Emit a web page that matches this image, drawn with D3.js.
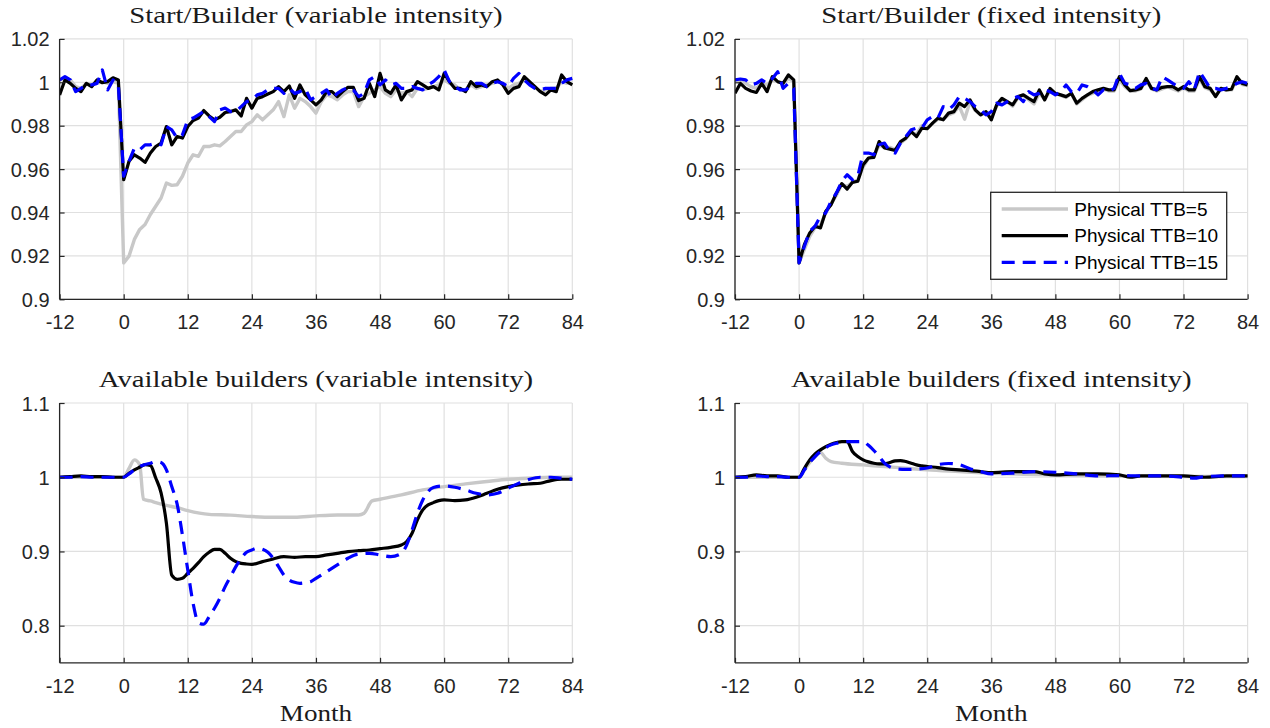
<!DOCTYPE html>
<html><head><meta charset="utf-8">
<script src="https://cdn.jsdelivr.net/npm/d3@7"></script>
<style>body{margin:0;background:#fff} svg{display:block}</style>
</head><body>
<svg id="chart" width="1270" height="728"></svg>
<script>
// ---------- DATA ----------
const months = d3.range(-12, 85);
const xTicks = [-12, 0, 12, 24, 36, 48, 60, 72, 84];
const yTicksTop = [0.9, 0.92, 0.94, 0.96, 0.98, 1, 1.02];
const yTicksBottom = [0.8, 0.9, 1, 1.1];
const seriesNames = ["Physical TTB=5", "Physical TTB=10", "Physical TTB=15"];
const titles = ["Start/Builder (variable intensity)", "Start/Builder (fixed intensity)",
                "Available builders (variable intensity)", "Available builders (fixed intensity)"];
const xLabel = "Month";

// Start/Builder, variable intensity (months -12..84)
const sbVarTTB5 = [1.0011,1.0018,1.0011,0.9980,0.9972,0.9995,0.9988,0.9995,1.0003,0.9995,1.0003,0.9995,
 0.9168,0.9199,0.9276,0.9322,0.9345,0.9391,0.9429,0.9467,0.9536,0.9525,0.9528,0.9567,0.9628,0.9666,0.9659,0.9704,0.9704,0.9712,0.9707,0.9727,0.9750,0.9773,0.9773,0.9804,0.9819,0.9850,0.9827,0.9850,0.9873,0.9911,0.9842,0.9942,0.9881,0.9926,0.9911,0.9888,0.9858,
 0.9911,0.9942,0.9934,0.9919,0.9942,0.9957,0.9957,0.9888,0.9934,0.9949,0.9965,0.9980,0.9949,0.9934,0.9965,0.9949,0.9957,0.9934,0.9972,0.9965,0.9972,0.9980,0.9988,1.0011,0.9995,0.9988,0.9965,0.9965,0.9988,0.9972,0.9980,0.9988,0.9995,1.0003,0.9995,0.9972,0.9988,0.9995,1.0011,0.9995,0.9980,0.9957,0.9965,0.9972,0.9972,1.0003,0.9995,0.9995];
const sbVarTTB10 = [0.9942,1.0011,0.9995,0.9972,0.9957,0.9995,0.9980,1.0011,0.9998,1.0003,1.0021,1.0011,
 0.9551,0.9636,0.9666,0.9651,0.9631,0.9674,0.9704,0.9720,0.9796,0.9712,0.9750,0.9743,0.9796,0.9824,0.9835,0.9870,0.9845,0.9827,0.9839,0.9861,0.9865,0.9873,0.9845,0.9926,0.9881,0.9926,0.9934,0.9946,0.9957,0.9980,0.9957,0.9983,0.9926,0.9988,0.9942,0.9919,0.9896,
 0.9919,0.9957,0.9957,0.9934,0.9957,0.9977,0.9977,0.9916,0.9926,0.9995,0.9934,1.0041,0.9965,0.9949,0.9988,0.9919,0.9957,0.9965,1.0003,0.9988,0.9972,0.9980,0.9965,1.0041,1.0003,0.9972,0.9972,0.9957,1.0003,0.9980,0.9988,0.9980,1.0003,1.0011,0.9988,0.9949,0.9972,0.9980,1.0026,1.0003,0.9980,0.9957,0.9942,0.9965,0.9957,1.0034,1.0003,0.9988];
const sbVarTTB15 = [1.0011,1.0026,1.0011,0.9957,0.9972,0.9988,0.9988,0.9995,1.0057,0.9965,1.0011,0.9988,
 0.9567,0.9636,0.9697,0.9689,0.9712,0.9712,0.9720,0.9712,0.9796,0.9781,0.9743,0.9758,0.9827,0.9835,0.9850,0.9865,0.9842,0.9819,0.9873,0.9881,0.9865,0.9865,0.9888,0.9911,0.9919,0.9942,0.9949,0.9965,0.9972,0.9972,0.9949,0.9972,0.9949,0.9957,0.9972,0.9919,0.9934,
 0.9949,0.9965,0.9926,0.9949,0.9965,0.9977,0.9965,0.9934,0.9949,1.0011,1.0026,0.9988,1.0011,0.9988,0.9995,0.9972,0.9972,0.9980,0.9972,0.9965,0.9988,1.0003,1.0026,1.0057,1.0003,0.9980,0.9965,0.9965,0.9980,0.9995,0.9995,0.9980,0.9995,1.0003,0.9995,0.9980,1.0018,1.0041,1.0011,0.9988,0.9972,0.9965,0.9972,0.9972,0.9972,0.9995,1.0011,1.0018];

// Start/Builder, fixed intensity (months -12..84)
const sbFixTTB5 = [1.0011,1.0003,0.9995,0.9980,0.9972,0.9995,0.9988,1.0011,1.0003,0.9995,1.0018,1.0003,
 0.9168,0.9230,0.9290,0.9330,0.9340,0.9400,0.9440,0.9480,0.9530,0.9520,0.9540,0.9550,0.9610,0.9650,0.9660,0.9710,0.9700,0.9700,0.9690,0.9720,0.9740,0.9770,0.9760,0.9800,0.9790,0.9810,0.9830,0.9830,0.9850,0.9860,0.9890,
 0.9830,0.9910,0.9870,0.9850,0.9860,0.9840,0.9890,0.9920,0.9910,0.9890,0.9930,0.9940,0.9920,0.9900,0.9950,0.9920,0.9960,0.9950,0.9940,0.9930,0.9950,0.9900,0.9920,0.9940,0.9950,0.9960,0.9970,0.9960,0.9960,1.0010,0.9980,0.9960,0.9960,0.9970,1.0010,0.9970,0.9960,0.9970,0.9980,0.9970,0.9960,0.9975,0.9960,0.9960,1.0015,0.9975,0.9965,0.9940,0.9970,0.9965,0.9965,1.0015,0.9990,0.9985];
const sbFixTTB10 = [0.9949,0.9995,0.9972,0.9960,0.9953,0.9995,0.9957,1.0026,1.0003,0.9995,1.0034,1.0011,
 0.9168,0.9253,0.9306,0.9337,0.9329,0.9406,0.9436,0.9490,0.9533,0.9508,0.9539,0.9544,0.9620,0.9651,0.9654,0.9727,0.9697,0.9692,0.9686,0.9727,0.9743,0.9773,0.9750,0.9789,0.9786,0.9812,0.9835,0.9827,0.9858,0.9865,0.9904,
 0.9888,0.9919,0.9873,0.9850,0.9865,0.9827,0.9896,0.9926,0.9911,0.9896,0.9934,0.9942,0.9926,0.9911,0.9965,0.9919,0.9972,0.9949,0.9942,0.9934,0.9949,0.9904,0.9926,0.9942,0.9957,0.9965,0.9972,0.9965,0.9965,1.0026,0.9988,0.9962,0.9965,0.9972,1.0018,0.9972,0.9965,0.9977,0.9980,0.9980,0.9965,0.9980,0.9965,0.9965,1.0026,0.9980,0.9972,0.9934,0.9972,0.9965,0.9968,1.0026,0.9995,0.9988];
const sbFixTTB15 = [1.0011,1.0015,1.0011,0.9988,0.9995,1.0011,0.9995,1.0018,1.0049,0.9972,0.9995,0.9972,
 0.9168,0.9245,0.9314,0.9337,0.9383,0.9398,0.9452,0.9490,0.9544,0.9574,0.9551,0.9567,0.9674,0.9674,0.9666,0.9712,0.9720,0.9681,0.9674,0.9720,0.9750,0.9781,0.9789,0.9789,0.9827,0.9842,0.9835,0.9888,0.9873,0.9896,0.9934,
 0.9926,0.9911,0.9888,0.9873,0.9850,0.9865,0.9904,0.9896,0.9911,0.9926,0.9934,0.9911,0.9957,0.9942,0.9949,0.9965,0.9957,0.9942,0.9957,0.9988,0.9957,0.9949,0.9988,0.9980,0.9965,0.9942,0.9965,0.9957,0.9972,1.0041,0.9995,0.9988,0.9972,0.9988,0.9995,0.9972,0.9965,1.0026,1.0011,0.9995,0.9980,0.9972,1.0003,0.9965,1.0049,1.0011,0.9972,0.9972,0.9965,0.9972,0.9980,0.9995,1.0003,0.9995];

// Available builders, variable intensity
const abVarMonthsTTB5 = [-12,-8,-4,0,1,2,3,3.7,5,6,8,10,12,16,20,24,28,32,36,40,44,45,46.5,48,52,56,60,64,68,72,76,80,84];
const abVarTTB5 = [1,1,1,1,1.012,1.0234,1.0166,0.9703,0.968,0.9658,0.962,0.959,0.955,0.950,0.949,0.947,0.946,0.946,0.948,0.9492,0.9492,0.9515,0.9681,0.9703,0.9762,0.9829,0.9874,0.9910,0.9942,0.9973,0.9987,1.0,1.0];
const abVarMonthsTTB10 = [-12,-10,-8,-6,-4,-2,0,1,2,3,4,5,6,7,8,9,10,11,12,13,14,15,16,17,18,19,20,21,22,23,24,26,28,30,32,34,36,38,40,42,44,46,48,50,52,53,54,55,56,57,58,59,60,62,64,66,68,70,72,74,76,78,80,82,84];
const abVarTTB10 = [1,1.0009,1.0018,1.0009,1.0009,1,1,1.0054,1.0099,1.0135,1.0171,1.0160,0.9990,0.9790,0.9380,0.8680,0.8625,0.8638,0.8706,0.8773,0.8849,0.8930,0.8989,0.9029,0.9029,0.8975,0.8908,0.8863,0.8840,0.8831,0.8827,0.8863,0.8899,0.8930,0.8921,0.8930,0.8930,0.8953,0.8975,0.8998,0.9011,0.9020,0.9038,0.9056,0.9088,0.9133,0.9245,0.9425,0.9560,0.9627,0.9658,0.9685,0.9694,0.9685,0.9694,0.9730,0.9784,0.9838,0.9874,0.9897,0.9910,0.9919,0.9955,0.9973,0.9973];
const abVarMonthsTTB15 = [-12,-10,-8,-6,-4,-2,0,1,2,3,4,5,6,7,8,9,10,11,12,13,14,15,16,17,18,19,20,21,22,23,24,25,26,27,28,29,30,31,32,33,34,35,36,38,40,42,44,46,48,50,52,53,54,55,56,57,58,60,62,64,66,68,70,72,74,76,78,80,82,84];
const abVarTTB15 = [1,1,1.0009,1,1,1,1,1.0045,1.0099,1.0144,1.0171,1.0189,1.0211,1.0198,1.0099,0.9874,0.9640,0.9220,0.8750,0.8300,0.8040,0.8020,0.8121,0.8234,0.8369,0.8526,0.8661,0.8796,0.8908,0.8989,0.9020,0.9043,0.9029,0.8989,0.8908,0.8796,0.8683,0.8616,0.8584,0.8571,0.8580,0.8593,0.8638,0.8728,0.8818,0.8908,0.8966,0.8975,0.8953,0.8930,0.8975,0.9088,0.9290,0.9515,0.9694,0.9807,0.9861,0.9883,0.9865,0.9829,0.9784,0.9762,0.9784,0.9852,0.9919,0.9973,1.0,1.0,0.9987,0.9973];

// Available builders, fixed intensity
const abFixMonthsTTB5 = [-12,-8,-4,0,1,2,3,4,5,6,8,12,16,20,24,30,36,42,48,56,64,72,84];
const abFixTTB5 = [1,1,1,1,1.0099,1.0198,1.0279,1.0333,1.0256,1.0211,1.0189,1.0166,1.0144,1.0121,1.0099,1.0076,1.0054,1.0040,1.0030,1.0020,1.0015,1.0010,1.0010];
const abFixMonthsTTB10 = [-12,-10,-8,-6,-4,-2,0,1,2,3,4,5,6,7,8,9,10,11,12,13,14,15,16,17,18,19,20,21,22,23,24,26,28,30,32,34,36,40,44,46,48,52,56,60,62,64,68,72,76,80,84];
const abFixTTB10 = [1,1.0009,1.0031,1.0018,1.0018,1,1,1.0121,1.0234,1.0315,1.0369,1.0413,1.0445,1.0467,1.0481,1.0481,1.0346,1.0279,1.0234,1.0207,1.0189,1.0180,1.0180,1.0198,1.0220,1.0225,1.0211,1.0189,1.0166,1.0153,1.0144,1.0130,1.0108,1.0099,1.0090,1.0076,1.0063,1.0076,1.0076,1.0045,1.0031,1.0045,1.0045,1.0031,1.0,1.0018,1.0018,1.0018,1.0,1.0018,1.0018];
const abFixMonthsTTB15 = [-12,-10,-8,-6,-4,-2,0,1,2,3,4,5,6,7,8,9,10,11,12,13,14,15,16,17,18,20,22,24,26,28,30,32,34,36,40,44,48,52,56,60,64,68,72,74,76,80,84];
const abFixTTB15 = [1,1,1.0018,1.0009,1.0009,1,1,1.0099,1.0198,1.0279,1.0346,1.0400,1.0436,1.0458,1.0472,1.0481,1.0481,1.0481,1.0481,1.0430,1.0360,1.0280,1.0190,1.0140,1.0115,1.0105,1.0110,1.0125,1.0170,1.0185,1.0170,1.0115,1.0076,1.0045,1.0054,1.0076,1.0067,1.0045,1.0018,1.0022,1.0018,1.0018,1.0,0.9987,1.0009,1.0018,1.0018];

// ---------- STYLE / LAYOUT ----------
const styles = [
  {color: "#c8c8c8", width: 3.4, dash: null},
  {color: "#000000", width: 3.2, dash: null},
  {color: "#0000ff", width: 3.2, dash: "13,8"}
];
const axisColor = "#262626";
const gridColor = "#e0e0e0";

const panels = [
  {title: titles[0], x0: 59.6, x1: 572.3, y0: 38.9, y1: 299.3, yDomain: [0.9, 1.02], yTicks: yTicksTop,
   series: [[months, sbVarTTB5], [months, sbVarTTB10], [months, sbVarTTB15]], xlabel: false, curve: d3.curveLinear},
  {title: titles[1], x0: 735.0, x1: 1247.6, y0: 38.9, y1: 299.3, yDomain: [0.9, 1.02], yTicks: yTicksTop,
   series: [[months, sbFixTTB5], [months, sbFixTTB10], [months, sbFixTTB15]], xlabel: false, curve: d3.curveLinear, legend: true},
  {title: titles[2], x0: 59.6, x1: 572.3, y0: 403.0, y1: 662.8, yDomain: [0.75, 1.1], yTicks: yTicksBottom,
   series: [[abVarMonthsTTB5, abVarTTB5], [abVarMonthsTTB10, abVarTTB10], [abVarMonthsTTB15, abVarTTB15]], xlabel: true, curve: d3.curveMonotoneX},
  {title: titles[3], x0: 735.0, x1: 1247.6, y0: 403.0, y1: 662.8, yDomain: [0.75, 1.1], yTicks: yTicksBottom,
   series: [[abFixMonthsTTB5, abFixTTB5], [abFixMonthsTTB10, abFixTTB10], [abFixMonthsTTB15, abFixTTB15]], xlabel: true, curve: d3.curveMonotoneX}
];

const svg = d3.select("#chart");
const fmt = d => String(+d.toFixed(2));

panels.forEach((p, i) => {
  const x = d3.scaleLinear().domain([-12, 84]).range([p.x0, p.x1]);
  const y = d3.scaleLinear().domain(p.yDomain).range([p.y1, p.y0]);
  const g = svg.append("g");

  // grid
  g.append("g").selectAll("line").data(xTicks).join("line")
    .attr("x1", d => x(d)).attr("x2", d => x(d)).attr("y1", p.y0).attr("y2", p.y1)
    .attr("stroke", gridColor).attr("stroke-width", 1.2);
  g.append("g").selectAll("line").data(p.yTicks).join("line")
    .attr("x1", p.x0).attr("x2", p.x1).attr("y1", d => y(d)).attr("y2", d => y(d))
    .attr("stroke", gridColor).attr("stroke-width", 1.2);

  // clip
  const cid = "clip" + i;
  svg.append("clipPath").attr("id", cid).append("rect")
    .attr("x", p.x0).attr("y", p.y0 - 2).attr("width", p.x1 - p.x0 + 2).attr("height", p.y1 - p.y0 + 2);

  // lines
  const lg = g.append("g").attr("clip-path", `url(#${cid})`);
  p.series.forEach((s, k) => {
    const pts = s[0].map((m, j) => [m, s[1][j]]);
    const line = d3.line().x(d => x(d[0])).y(d => y(d[1])).curve(p.curve);
    lg.append("path").attr("d", line(pts)).attr("fill", "none")
      .attr("stroke", styles[k].color).attr("stroke-width", styles[k].width)
      .attr("stroke-linejoin", "round")
      .attr("stroke-dasharray", styles[k].dash);
  });

  // axes
  const xa = g.append("g").attr("transform", `translate(0,${p.y1})`)
    .call(d3.axisBottom(x).tickValues(xTicks).tickSize(-5).tickFormat(d => d));
  xa.selectAll("text").attr("y", 30).attr("dy", 0);
  const ya = g.append("g").attr("transform", `translate(${p.x0},0)`)
    .call(d3.axisLeft(y).tickValues(p.yTicks).tickSize(-5).tickFormat(fmt));
  ya.selectAll("text").attr("x", -10).attr("dy", "0.35em");
  [xa, ya].forEach(a => {
    a.select(".domain").attr("stroke", axisColor).attr("stroke-width", 1.3);
    a.selectAll(".tick line").attr("stroke", axisColor).attr("stroke-width", 1.2);
    a.selectAll("text").attr("fill", axisColor).attr("font-family", "Liberation Sans, Arial, sans-serif").attr("font-size", 20);
  });
  ya.select(".domain").attr("d", `M0,${p.y1}V${p.y0}`);
  xa.select(".domain").attr("d", `M${p.x0},0H${p.x1}`);

  // title
  const cx = (p.x0 + p.x1) / 2;
  g.append("text").attr("transform", `translate(${cx},${p.y0 - 15.6}) scale(1.25,1)`)
    .attr("text-anchor", "middle").attr("font-family", "Liberation Serif, Times New Roman, serif")
    .attr("font-size", 23).attr("fill", "#1a1a1a").text(p.title);

  if (p.xlabel) {
    g.append("text").attr("transform", `translate(${cx},${p.y1 + 58}) scale(1.18,1)`)
      .attr("text-anchor", "middle").attr("font-family", "Liberation Serif, Times New Roman, serif")
      .attr("font-size", 23).attr("fill", "#1a1a1a").text(xLabel);
  }

  if (p.legend) {
    const L = g.append("g");
    L.append("rect").attr("x", 990.7).attr("y", 192.3).attr("width", 236).attr("height", 87)
      .attr("fill", "#fff").attr("stroke", axisColor).attr("stroke-width", 1.3);
    const rows = [209, 235.7, 262.3];
    seriesNames.forEach((n, k) => {
      L.append("line").attr("x1", 1001.7).attr("x2", 1068).attr("y1", rows[k]).attr("y2", rows[k])
        .attr("stroke", styles[k].color).attr("stroke-width", styles[k].width)
        .attr("stroke-dasharray", styles[k].dash);
      L.append("text").attr("x", 1074.3).attr("y", rows[k]).attr("dy", "0.35em")
        .attr("font-family", "Liberation Sans, Arial, sans-serif").attr("font-size", 19)
        .attr("fill", "#000").text(n);
    });
  }
});
</script>
</body></html>
